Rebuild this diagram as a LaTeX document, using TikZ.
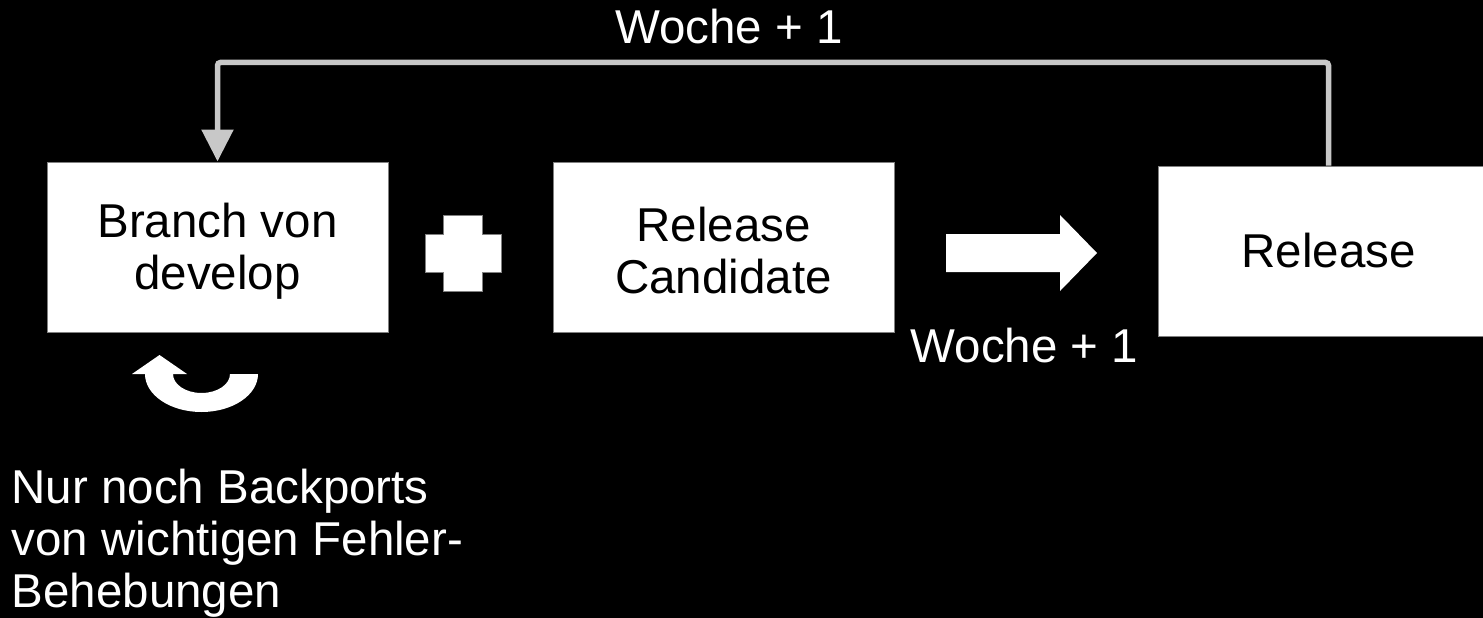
\documentclass[tikz,border=0pt]{standalone}
\usepackage{fontspec}
\setmainfont{Liberation Sans}
\usetikzlibrary{arrows.meta}
\definecolor{conn}{RGB}{200,200,200}
\definecolor{edge}{RGB}{128,128,128}
\tikzset{
  stepbox/.style={draw=edge, line width=1pt, fill=white, minimum width=341pt, minimum height=170pt, inner sep=0pt, align=center, text=black, font=\fontsize{47.5}{52}\selectfont},
  lbl/.style={text=white, inner sep=0pt, font=\fontsize{47.5}{52}\selectfont},
  shapefill/.style={fill=white, draw=edge, line width=0.8pt},
  loop/.style={draw=conn, line width=5.5pt, rounded corners=3pt, -{Triangle[width=31pt,length=32pt]}}
}
\begin{document}
\begin{tikzpicture}[x=1pt,y=1pt]
\useasboundingbox (0,0) rectangle (1483,-618);
\fill[black] (0,0) rectangle (1483,-618);
\clip (0,0) rectangle (1483,-618);
\node[stepbox] (b1) at (217.5,-247) {\rule{0pt}{42pt}Branch von\\develop};
\node[stepbox] (b2) at (723.5,-247) {\rule{0pt}{42pt}Release\\Candidate};
\node[stepbox] (b3) at (1328.5,-251) {Release};
% loop back connector
\coordinate (top) at (1328.5,-62.5);
\draw[loop] (b3.north) -- (top) -| (b1.north);
\node[lbl, anchor=base] (t1) at (729,-44) {Woche + 1};
% plus sign
\draw[shapefill] (443,-215) -- (482,-215) -- (482,-234) -- (501,-234) -- (501,-272) -- (482,-272) -- (482,-291) -- (443,-291) -- (443,-272) -- (425,-272) -- (425,-234) -- (443,-234) -- cycle;
% block arrow
\fill[white] (946,-234) -- (1060,-234) -- (1060,-215) -- (1097,-253) -- (1060,-291) -- (1060,-272) -- (946,-272) -- cycle;
\node[lbl, anchor=base] (t2) at (1024.5,-362) {Woche + 1};
% curved arrow
\fill[white] (258,-374) arc[start angle=0, end angle=-180, x radius=56.5, y radius=38]
  -- (132,-374) -- (159.5,-355) -- (187,-374) -- (173,-374)
  arc[start angle=180, end angle=360, x radius=28.5, y radius=19] -- cycle;
\node[lbl, anchor=base west, align=left] (t3) at (11.5,-607) {Nur noch Backports\\von wichtigen Fehler-\\Behebungen};
\end{tikzpicture}
\end{document}
